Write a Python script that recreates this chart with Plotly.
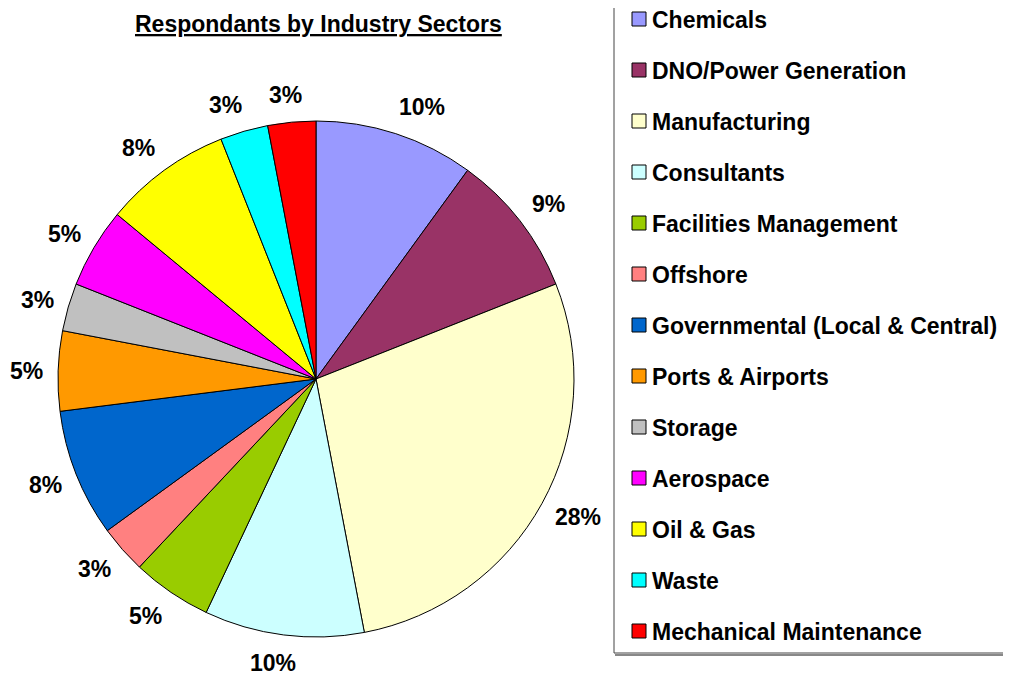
import math
import plotly.graph_objects as go

# page is offset by the browser's default 8px body margin
OFF = 8
W, H = 1011 - OFF, 673 - OFF

categories = ["Chemicals", "DNO/Power Generation", "Manufacturing", "Consultants",
              "Facilities Management", "Offshore", "Governmental (Local & Central)",
              "Ports & Airports", "Storage", "Aerospace", "Oil & Gas", "Waste",
              "Mechanical Maintenance"]
shares = [10, 9, 28, 10, 5, 3, 8, 5, 3, 5, 8, 3, 3]
colors = ["#9999FF", "#993366", "#FFFFCC", "#CCFFFF", "#99CC00", "#FF8080",
          "#0066CC", "#FF9900", "#C0C0C0", "#FF00FF", "#FFFF00", "#00FFFF", "#FF0000"]
title_text = "Respondants by Industry Sectors"

FONT = "Liberation Sans, Arial, sans-serif"
FS = 23

# pie placement (page pixels)
cx, cy, R = 316, 379, 258
anchor_r = 273


def px(x):
    return (x - OFF) / W


def py(y):
    return 1 - (y - OFF) / H


fig = go.Figure(go.Pie(
    labels=categories, values=shares, sort=False, direction="clockwise", rotation=0,
    marker=dict(colors=colors, line=dict(color="black", width=1)),
    textinfo="none", showlegend=False, hoverinfo="label+percent",
    domain=dict(x=[px(cx - R), px(cx + R)], y=[py(cy + R), py(cy - R)]),
))

annotations = []
shapes = []
total = sum(shares)
cum = 0
for v in shares:
    mid = (cum + v / 2) / total * 2 * math.pi
    cum += v
    txt = f"{round(v / total * 100)}%"
    w = (0.556 * (len(txt) - 1) + 0.889) * FS
    s, c = math.sin(mid), math.cos(mid)
    lx = cx + anchor_r * s + max(-1, min(1, 3 * s)) * w / 2
    ly = cy - anchor_r * c - c * 13
    annotations.append(dict(x=px(lx), y=py(ly), xref="paper", yref="paper",
                            text=f"<b>{txt}</b>", showarrow=False,
                            xanchor="center", yanchor="middle", height=FS,
                            borderpad=0,
                            font=dict(family=FONT, size=FS, color="black")))

# title
annotations.append(dict(x=px(318), y=py(24), xref="paper", yref="paper",
                        text=f"<b><u>{title_text}</u></b>", showarrow=False,
                        xanchor="center", yanchor="middle",
                        font=dict(family=FONT, size=FS, color="black")))

# legend box
shapes.append(dict(type="rect", xref="paper", yref="paper",
                   x0=px(614), x1=px(1030), y0=py(653), y1=py(-5),
                   line=dict(color="#444444", width=1), fillcolor="white", layer="below"))
shapes.append(dict(type="line", xref="paper", yref="paper",
                   x0=px(615), x1=px(1030), y0=py(655), y1=py(655),
                   line=dict(color="#888888", width=2)))

for i, (cat, col) in enumerate(zip(categories, colors)):
    yc = 19 + 51 * i
    shapes.append(dict(type="rect", xref="paper", yref="paper",
                       x0=px(632), x1=px(646), y0=py(yc + 7), y1=py(yc - 7),
                       line=dict(color="black", width=1), fillcolor=col))
    annotations.append(dict(x=px(650), y=py(yc + 1), xref="paper", yref="paper",
                            text=f"<b>{cat}</b>", showarrow=False,
                            xanchor="left", yanchor="middle",
                            font=dict(family=FONT, size=FS, color="black")))

fig.update_layout(width=W, height=H, margin=dict(l=0, r=0, t=0, b=0),
                  paper_bgcolor="white", plot_bgcolor="white",
                  annotations=annotations, shapes=shapes, showlegend=False)

fig.write_html("out.html")
